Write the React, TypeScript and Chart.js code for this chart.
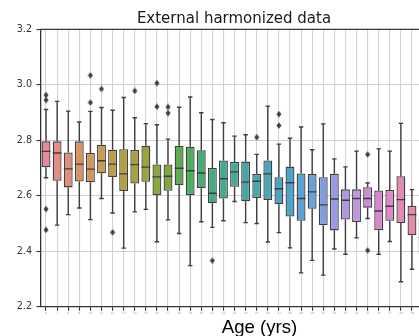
import React, { useEffect, useRef } from 'react';
import { Chart, registerables } from 'chart.js';

Chart.register(...registerables);

const ageLabels = [
  '6', '7', '8', '9', '10', '11', '12', '13', '14', '15', '16', '17', '18', '19', '20', '21', '22', '23',
  '24', '25', '26', '27', '28', '29', '30', '31', '32', '33', '34', '35', '36', '37', '38', '39', '40',
];

const whiskerLow = [
  2.665, 2.494, 2.532, 2.556, 2.514, 2.590, 2.538, 2.411, 2.542, 2.551, 2.434, 2.513, 2.464, 2.348, 2.506,
  2.486, 2.510, 2.579, 2.503, 2.500, 2.433, 2.467, 2.412, 2.322, 2.367, 2.314, 2.408, 2.389, 2.448, 2.518,
  2.389, 2.435, 2.290, 2.335, 2.300,
];
const quartile1 = [
  2.703, 2.654, 2.630, 2.651, 2.649, 2.681, 2.668, 2.617, 2.644, 2.650, 2.603, 2.618, 2.638, 2.603, 2.627,
  2.573, 2.590, 2.632, 2.580, 2.592, 2.585, 2.569, 2.525, 2.510, 2.553, 2.494, 2.475, 2.514, 2.505, 2.557,
  2.476, 2.510, 2.502, 2.458, 2.390,
];
const medians = [
  2.760, 2.754, 2.697, 2.714, 2.696, 2.726, 2.714, 2.679, 2.712, 2.703, 2.668, 2.670, 2.699, 2.690, 2.682,
  2.609, 2.661, 2.686, 2.649, 2.652, 2.679, 2.625, 2.647, 2.590, 2.614, 2.567, 2.588, 2.584, 2.590, 2.590,
  2.545, 2.562, 2.586, 2.532, 2.450,
];
const quartile3 = [
  2.796, 2.796, 2.756, 2.796, 2.754, 2.784, 2.766, 2.768, 2.765, 2.780, 2.713, 2.713, 2.780, 2.777, 2.764,
  2.700, 2.727, 2.722, 2.723, 2.679, 2.727, 2.667, 2.705, 2.680, 2.678, 2.667, 2.679, 2.623, 2.623, 2.631,
  2.619, 2.621, 2.670, 2.563, 2.518,
];
const whiskerHigh = [
  2.911, 2.940, 2.905, 2.866, 2.904, 2.918, 2.908, 2.954, 2.881, 2.860, 2.856, 2.804, 2.919, 2.956, 2.899,
  2.875, 2.863, 2.815, 2.820, 2.749, 2.923, 2.786, 2.807, 2.848, 2.766, 2.859, 2.733, 2.704, 2.761, 2.646,
  2.769, 2.761, 2.861, 2.622, 2.600,
];

const outlierBox = [0, 0, 0, 0, 4, 4, 5, 6, 8, 10, 10, 11, 11, 15, 19, 21, 21, 29, 29];
const outlierValue = [
  2.963, 2.945, 2.552, 2.477, 3.034, 2.936, 2.985, 2.468, 2.978, 3.006, 2.921, 2.920, 2.898, 2.366, 2.811,
  2.894, 2.853, 2.749, 2.403,
];

const yTicks = [2.2, 2.4, 2.6, 2.8, 3.0, 3.2];

const boxColors = [
  '#e58a98', '#e38d8b', '#df8f79', '#da935e', '#d3975a', '#c99b4f', '#bf9d46', '#b39e41', '#a8a040',
  '#9ba33f', '#8ea640', '#80a842', '#5fad4f', '#4cae5e', '#47ab73', '#46a983', '#46a890', '#46a79b',
  '#47a6a4', '#48a6ad', '#4aa6b7', '#4da5c1', '#50a4cc', '#58a2d6', '#6aa0db', '#829ddf', '#9899e0',
  '#ac98e2', '#c096e0', '#d08cd8', '#d886cd', '#df8ac2', '#e289b4', '#e48aa8', '#e48b99',
];

const EDGE = '#3f3f3f';
const CANVAS_W = 470;
const CANVAS_H = 336;

export default function App() {
  const ref = useRef<HTMLCanvasElement>(null);

  useEffect(() => {
    const canvas = ref.current;
    if (!canvas) return;

    const diamond = document.createElement('canvas');
    diamond.width = 6;
    diamond.height = 7;
    const dctx = diamond.getContext('2d')!;
    dctx.fillStyle = EDGE;
    dctx.beginPath();
    dctx.moveTo(3, 0.2);
    dctx.lineTo(5.5, 3.5);
    dctx.lineTo(3, 6.8);
    dctx.lineTo(0.5, 3.5);
    dctx.closePath();
    dctx.fill();

    const boxPlugin = {
      id: 'boxExtras',
      afterDatasetsDraw(chart: any) {
        const { ctx, scales, chartArea } = chart;
        const x = scales.x;
        const y = scales.y;
        const meta = chart.getDatasetMeta(0);
        ctx.save();
        ctx.strokeStyle = EDGE;
        ctx.lineWidth = 1.4;
        ctx.lineCap = 'butt';
        medians.forEach((m, i) => {
          const bar = meta.data[i];
          const cx = x.getPixelForValue(i);
          const w = bar ? bar.width : 8.9;
          const yLo = y.getPixelForValue(whiskerLow[i]);
          const yQ1 = y.getPixelForValue(quartile1[i]);
          const yMed = y.getPixelForValue(m);
          const yQ3 = y.getPixelForValue(quartile3[i]);
          const yHi = y.getPixelForValue(whiskerHigh[i]);
          ctx.beginPath();
          ctx.moveTo(cx, yQ3);
          ctx.lineTo(cx, yHi);
          ctx.moveTo(cx, yQ1);
          ctx.lineTo(cx, yLo);
          ctx.moveTo(cx - w / 4, yHi);
          ctx.lineTo(cx + w / 4, yHi);
          ctx.moveTo(cx - w / 4, yLo);
          ctx.lineTo(cx + w / 4, yLo);
          ctx.moveTo(cx - w / 2, yMed);
          ctx.lineTo(cx + w / 2, yMed);
          ctx.stroke();
        });
        // top and right spines
        ctx.strokeStyle = '#3a3a3a';
        ctx.lineWidth = 1.25;
        ctx.beginPath();
        ctx.moveTo(chartArea.left, chartArea.top);
        ctx.lineTo(chartArea.right, chartArea.top);
        ctx.moveTo(chartArea.right, chartArea.top);
        ctx.lineTo(chartArea.right, chartArea.bottom);
        ctx.stroke();
        // title and axis label
        ctx.fillStyle = '#1a1a1a';
        ctx.textAlign = 'center';
        ctx.textBaseline = 'alphabetic';
        ctx.font = '15px "DejaVu Sans"';
        ctx.fillText('External harmonized data', 234, 22.5);
        ctx.fillStyle = '#000000';
        ctx.font = '18.6px "Liberation Sans"';
        ctx.fillText('Age (yrs)', 259.5, 332.5);
        ctx.restore();
      },
    };

    const chart = new Chart(canvas, {
      type: 'bar',
      data: {
        labels: ageLabels,
        datasets: [
          {
            type: 'bar',
            data: quartile1.map((q, i) => [q, quartile3[i]]) as any,
            backgroundColor: boxColors,
            borderColor: EDGE,
            borderWidth: 1.3,
            borderSkipped: false,
            barPercentage: 0.8,
            categoryPercentage: 1.0,
          } as any,
          {
            type: 'scatter',
            data: outlierBox.map((b, i) => ({ x: ageLabels[b], y: outlierValue[i] })),
            pointStyle: diamond,
            pointRadius: 3,
            showLine: false,
          } as any,
        ],
      },
      options: {
        responsive: false,
        animation: false,
        devicePixelRatio: 1,
        events: [],
        layout: { padding: { top: 29.3, right: CANVAS_W - 428.6, left: 0, bottom: 0 } },
        plugins: {
          legend: { display: false },
          tooltip: { enabled: false },
          title: { display: false },
        },
        scales: {
          x: {
            type: 'category',
            offset: true,
            grid: {
              offset: false,
              color: '#d3d3d3',
              lineWidth: 1.1,
              tickColor: '#333333',
              tickLength: 4,
              tickWidth: 1.1,
              drawOnChartArea: true,
            },
            border: { display: true, color: '#333333', width: 1.3 },
            ticks: {
              autoSkip: false,
              maxRotation: 0,
              minRotation: 0,
              padding: 1,
              color: '#9a9a9a',
              font: { size: 3, family: 'DejaVu Sans' },
            },
            afterFit: (s: any) => {
              s.height = CANVAS_H - 306.7;
            },
          },
          y: {
            type: 'linear',
            min: 2.2,
            max: 3.2,
            afterBuildTicks: (s: any) => {
              s.ticks = yTicks.map((v) => ({ value: v }));
            },
            grid: {
              color: '#cfcfcf',
              lineWidth: 1.1,
              tickColor: '#333333',
              tickLength: 4,
              tickWidth: 1.1,
            },
            border: { display: true, color: '#333333', width: 1.3 },
            ticks: {
              padding: 4.5,
              color: '#333333',
              font: { size: 9.6, family: 'DejaVu Sans' },
              callback: (v: any) => Number(v).toFixed(1),
            },
            afterFit: (s: any) => {
              s.width = 40.5;
            },
          },
        },
      },
      plugins: [boxPlugin],
    });

    return () => chart.destroy();
  }, []);

  return (
    <div
      style={{
        position: 'fixed',
        left: 0,
        top: 0,
        width: 419,
        height: 336,
        overflow: 'hidden',
        background: '#ffffff',
      }}
    >
      <canvas ref={ref} width={CANVAS_W} height={CANVAS_H} style={{ width: CANVAS_W, height: CANVAS_H, display: 'block' }} />
    </div>
  );
}
